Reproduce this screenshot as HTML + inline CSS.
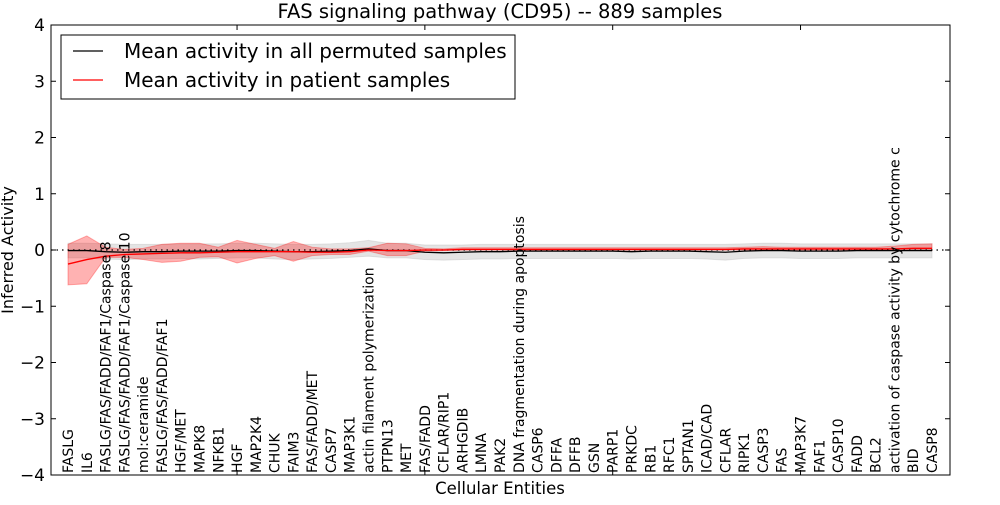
<!DOCTYPE html>
<html><head><meta charset="utf-8"><style>
body{margin:0;background:#fff;}
svg text{font-family:"DejaVu Sans","Liberation Sans",sans-serif;}
</style></head><body>
<svg id="chart" width="1000" height="500" viewBox="0 0 1000 500" xmlns="http://www.w3.org/2000/svg">
<rect width="1000" height="500" fill="#fff"/>
<text x="500" y="18" font-size="19.5" text-anchor="middle">FAS signaling pathway (CD95) -- 889 samples</text>
<g id="bands"></g><g id="lines"></g><g id="xlabels"></g>
<rect x="51" y="25" width="899" height="450" fill="none" stroke="#000" stroke-width="1"/>
<g id="yaxis"></g>
<text transform="translate(13,250) rotate(-90)" font-size="16" text-anchor="middle">Inferred Activity</text>
<text x="500" y="494" font-size="16.5" text-anchor="middle">Cellular Entities</text>
<g>
<rect x="61" y="35" width="454" height="64" fill="#fff" stroke="#000" stroke-width="1"/>
<line x1="73" y1="51" x2="103" y2="51" stroke="#000" stroke-width="1.3"/>
<text x="124" y="58" font-size="20">Mean activity in all permuted samples</text>
<line x1="73" y1="80" x2="103" y2="80" stroke="#f00" stroke-width="1.3"/>
<text x="124" y="87" font-size="20">Mean activity in patient samples</text>
</g>
</svg>
<script>
const categories=["FASLG","IL6","FASLG/FAS/FADD/FAF1/Caspase 8","FASLG/FAS/FADD/FAF1/Caspase 10","mol:ceramide","FASLG/FAS/FADD/FAF1","HGF/MET","MAPK8","NFKB1","HGF","MAP2K4","CHUK","FAIM3","FAS/FADD/MET","CASP7","MAP3K1","actin filament polymerization","PTPN13","MET","FAS/FADD","CFLAR/RIP1","ARHGDIB","LMNA","PAK2","DNA fragmentation during apoptosis","CASP6","DFFA","DFFB","GSN","PARP1","PRKDC","RB1","RFC1","SPTAN1","ICAD/CAD","CFLAR","RIPK1","CASP3","FAS","MAP3K7","FAF1","CASP10","FADD","BCL2","activation of caspase activity by cytochrome c","BID","CASP8"];
const permMean=[-0.01,-0.01,-0.03,-0.04,-0.03,-0.03,-0.02,-0.02,-0.02,-0.01,-0.01,-0.02,-0.03,-0.03,-0.02,-0.01,0.02,-0.01,-0.01,-0.04,-0.05,-0.04,-0.03,-0.03,-0.02,-0.02,-0.02,-0.02,-0.02,-0.02,-0.03,-0.02,-0.02,-0.02,-0.03,-0.04,-0.02,-0.01,-0.01,-0.02,-0.02,-0.02,-0.01,-0.01,-0.01,-0.01,-0.01];
const permLo=[-0.14,-0.14,-0.16,-0.17,-0.16,-0.16,-0.15,-0.16,-0.15,-0.14,-0.14,-0.16,-0.17,-0.16,-0.15,-0.13,-0.11,-0.14,-0.14,-0.17,-0.18,-0.17,-0.16,-0.16,-0.15,-0.15,-0.15,-0.15,-0.15,-0.15,-0.16,-0.15,-0.15,-0.15,-0.16,-0.18,-0.15,-0.14,-0.14,-0.15,-0.15,-0.15,-0.14,-0.14,-0.14,-0.14,-0.14];
const permHi=[0.12,0.12,0.11,0.1,0.1,0.1,0.11,0.11,0.11,0.12,0.12,0.11,0.1,0.1,0.11,0.13,0.17,0.12,0.12,0.09,0.09,0.09,0.1,0.1,0.1,0.1,0.1,0.1,0.1,0.1,0.1,0.1,0.1,0.1,0.1,0.1,0.11,0.12,0.12,0.11,0.11,0.11,0.11,0.11,0.11,0.11,0.11];
const patMean=[-0.25,-0.17,-0.11,-0.08,-0.07,-0.06,-0.05,-0.05,-0.04,-0.03,-0.03,-0.03,-0.03,-0.04,-0.04,-0.03,0,-0.01,-0.01,0,0,0.01,0.01,0.01,0.01,0.01,0.01,0.01,0.01,0.01,0.01,0.01,0.01,0.01,0.01,0.01,0.02,0.02,0.02,0.02,0.02,0.02,0.02,0.02,0.02,0.03,0.03];
const patLo=[-0.62,-0.6,-0.13,-0.13,-0.17,-0.22,-0.2,-0.13,-0.12,-0.23,-0.15,-0.1,-0.2,-0.1,-0.08,-0.08,-0.02,-0.1,-0.1,-0.02,-0.01,0,0,0,0,0,0,0,0,0,0,0,0,0,0,0,0,0,0,0,0,0,0,0,-0.01,0,-0.01];
const patHi=[0.1,0.25,0.05,0.01,0.03,0.1,0.12,0.12,0.05,0.17,0.1,0.03,0.15,0.05,0.02,0.02,0.04,0.12,0.11,0.03,0.02,0.04,0.04,0.04,0.04,0.04,0.04,0.04,0.04,0.04,0.04,0.04,0.04,0.04,0.04,0.04,0.05,0.06,0.05,0.05,0.05,0.05,0.05,0.05,0.07,0.1,0.11];
const yTicks=[4,3,2,1,0,-1,-2,-3,-4];
const topTickIdx=[9,19,29,39];
const NS="http://www.w3.org/2000/svg";
function xs(i){return 68+i*(932-68)/(categories.length-1);}
function ys(v){return 250-v*56.25;}
function mk(tag,attrs,parent){const e=document.createElementNS(NS,tag);for(const k in attrs)e.setAttribute(k,attrs[k]);parent.appendChild(e);return e;}
const bands=document.getElementById('bands'),lines=document.getElementById('lines'),xl=document.getElementById('xlabels'),ya=document.getElementById('yaxis');
function band(lo,hi,fill,op,name){let d='M';for(let i=0;i<hi.length;i++)d+=xs(i)+','+ys(hi[i])+' L';for(let i=lo.length-1;i>=0;i--)d+=xs(i)+','+ys(lo[i])+(i>0?' L':' Z');const p=mk('path',{d:d,fill:fill,'fill-opacity':op,stroke:fill,'stroke-opacity':op},bands);

}
band(permLo,permHi,'#bbbbbb',0.4,'permuted-band');
band(patLo,patHi,'#ff0000',0.3,'patient-band');
const zl=mk('line',{x1:51,x2:950,y1:ys(0),y2:ys(0),stroke:'#000','stroke-dasharray':'1.5,4','stroke-width':1.2},lines);


function line(vals,col,name){const p=mk('polyline',{points:vals.map((v,i)=>xs(i)+','+ys(v)).join(' '),fill:'none',stroke:col,'stroke-width':1.3},lines);

}
line(permMean,'#000','permuted-mean-line');
line(patMean,'#f00','patient-mean-line');
categories.forEach((c,i)=>{const t=mk('text',{transform:'translate('+(xs(i)+5)+',473) rotate(-90)','font-size':14},xl);t.textContent=c;

});
topTickIdx.forEach(i=>{const a=mk('line',{x1:xs(i),x2:xs(i),y1:25,y2:30,stroke:'#000'},ya);


const b=mk('line',{x1:xs(i),x2:xs(i),y1:475,y2:470,stroke:'#000'},ya);

});
yTicks.forEach(v=>{const y=ys(v);mk('line',{x1:51,x2:56,y1:y,y2:y,stroke:'#000'},ya);mk('line',{x1:950,x2:945,y1:y,y2:y,stroke:'#000'},ya);
const t=mk('text',{x:45,y:y+6,'font-size':17,'text-anchor':'end'},ya);t.textContent=(v<0?'\u2212'+(-v):String(v));

});
</script>
</body></html>
